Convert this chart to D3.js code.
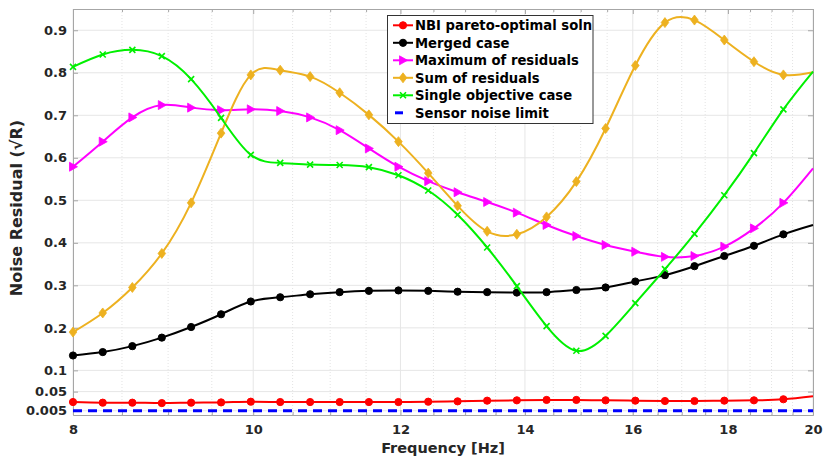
<!DOCTYPE html>
<html><head><meta charset="utf-8">
<script src="https://cdn.jsdelivr.net/npm/d3@7/dist/d3.min.js"></script>
<style>
html,body{margin:0;padding:0;background:#fff;}
svg{display:block;font-family:"DejaVu Sans",sans-serif;}
</style></head>
<body><svg id="chart" width="823" height="457"></svg>
<script>
// ---- data ----
const freq = [8.00, 8.30, 8.61, 8.93, 9.26, 9.61, 9.97, 10.34, 10.73, 11.13, 11.54, 11.97, 12.42,
              12.88, 13.36, 13.86, 14.38, 14.92, 15.47, 16.05, 16.65, 17.27, 17.92, 18.59, 19.28, 20.00];
const nbi = [0.0255, 0.024, 0.024, 0.023, 0.024, 0.0246, 0.0263, 0.0255, 0.0255, 0.0255, 0.0255, 0.0255, 0.0263,
             0.0271, 0.0287, 0.0295, 0.0304, 0.0304, 0.0295, 0.0287, 0.0279, 0.0279, 0.0287, 0.0295, 0.032, 0.039];
const merged = [0.135, 0.143, 0.157, 0.177, 0.202, 0.232, 0.262, 0.272, 0.279, 0.284, 0.287, 0.288, 0.287,
                0.285, 0.284, 0.283, 0.284, 0.289, 0.295, 0.309, 0.324, 0.345, 0.369, 0.393, 0.420, 0.442];
const maxRes = [0.579, 0.638, 0.695, 0.724, 0.718, 0.712, 0.714, 0.710, 0.695, 0.665, 0.622, 0.579, 0.545,
                0.519, 0.496, 0.471, 0.442, 0.416, 0.395, 0.379, 0.367, 0.369, 0.391, 0.434, 0.494, 0.575];
const sumRes = [0.19, 0.235, 0.295, 0.375, 0.494, 0.658, 0.795, 0.806, 0.791, 0.753, 0.701, 0.638, 0.564,
                0.487, 0.427, 0.420, 0.461, 0.544, 0.669, 0.817, 0.918, 0.924, 0.877, 0.826, 0.795, 0.801];
const single = [0.814, 0.843, 0.854, 0.839, 0.785, 0.694, 0.607, 0.588, 0.584, 0.583, 0.578, 0.559, 0.523,
                0.466, 0.389, 0.298, 0.204, 0.146, 0.181, 0.258, 0.338, 0.421, 0.512, 0.611, 0.714, 0.803];
const sensorLimit = [0.005, 0.005];
const sensorFreq = [8, 20];

const seriesNames = ["NBI pareto-optimal soln", "Merged case", "Maximum of residuals",
                     "Sum of residuals", "Single objective case", "Sensor noise limit"];
const xTicks = [8, 10, 12, 14, 16, 18, 20];
const xMinorTicks = [8.5, 9, 9.5, 10.5, 11, 11.5, 12.5, 13, 13.5, 14.5, 15, 15.5, 16.5, 17, 17.5, 18.5, 19, 19.5];
const yTicks = [0.005, 0.05, 0.1, 0.2, 0.3, 0.4, 0.5, 0.6, 0.7, 0.8, 0.9];
const yTickLabels = ["0.005", "0.05", "0.1", "0.2", "0.3", "0.4", "0.5", "0.6", "0.7", "0.8", "0.9"];

// ---- layout ----
const L = 73, R = 813, T = 9, B = 415;
const svg = d3.select("#chart");
const x = d3.scaleLog().domain([8, 20]).range([L, R]);
const y = d3.scaleLinear().domain([-0.005, 0.95]).range([B, T]);

const txt = "#262626", axisCol = "#a6a6a6";

// grid
const g = svg.append("g");
g.selectAll(".vmin").data(xMinorTicks).enter().append("line")
  .attr("x1", d => x(d)).attr("x2", d => x(d)).attr("y1", T).attr("y2", B)
  .attr("stroke", "#e3e3e3").attr("stroke-width", 1).attr("stroke-dasharray", "1,2");
g.selectAll(".vmaj").data(xTicks).enter().append("line")
  .attr("x1", d => x(d)).attr("x2", d => x(d)).attr("y1", T).attr("y2", B)
  .attr("stroke", "#e6e6e6").attr("stroke-width", 1);
g.selectAll(".hmaj").data(yTicks).enter().append("line")
  .attr("x1", L).attr("x2", R).attr("y1", d => y(d)).attr("y2", d => y(d))
  .attr("stroke", "#e6e6e6").attr("stroke-width", 1);

// axes (box with inward ticks)
const axB = d3.axisBottom(x).tickValues(xTicks).tickFormat(d3.format("d")).tickSizeInner(-5).tickSizeOuter(0).tickPadding(10);
const axT = d3.axisTop(x).tickValues(xTicks).tickFormat("").tickSizeInner(-5).tickSizeOuter(0);
const axL = d3.axisLeft(y).tickValues(yTicks).tickFormat((d, i) => yTickLabels[i]).tickSizeInner(-5).tickSizeOuter(0).tickPadding(6);
const axR = d3.axisRight(y).tickValues(yTicks).tickFormat("").tickSizeInner(-5).tickSizeOuter(0);
const minorB = d3.axisBottom(x).tickValues(xMinorTicks).tickFormat("").tickSizeInner(-3).tickSizeOuter(0);
const minorT = d3.axisTop(x).tickValues(xMinorTicks).tickFormat("").tickSizeInner(-3).tickSizeOuter(0);

function styleAxis(sel) {
  sel.select(".domain").attr("stroke", axisCol);
  sel.selectAll(".tick line").attr("stroke", axisCol);
  sel.selectAll(".tick text").attr("fill", txt).attr("font-size", 13).attr("font-weight", "bold")
    .attr("font-family", "DejaVu Sans, sans-serif");
}
svg.append("g").attr("transform", `translate(0,${B})`).call(minorB).call(styleAxis);
svg.append("g").attr("transform", `translate(0,${T})`).call(minorT).call(styleAxis);
svg.append("g").attr("transform", `translate(0,${B})`).call(axB).call(styleAxis);
svg.append("g").attr("transform", `translate(0,${T})`).call(axT).call(styleAxis);
svg.append("g").attr("transform", `translate(${L},0)`).call(axL).call(styleAxis);
svg.append("g").attr("transform", `translate(${R},0)`).call(axR).call(styleAxis);

// axis labels
svg.append("text").attr("x", (L + R) / 2).attr("y", 453).attr("text-anchor", "middle")
  .attr("font-size", 14.5).attr("font-weight", "bold").attr("fill", txt).text("Frequency [Hz]");
svg.append("text").attr("transform", "translate(22,208) rotate(-90)").attr("text-anchor", "middle")
  .attr("font-size", 16).attr("font-weight", "bold").attr("fill", txt).text("Noise Residual (√R)");

// series
const series = [
  {name: seriesNames[0], vals: nbi, color: "#ff0000", marker: "circle"},
  {name: seriesNames[1], vals: merged, color: "#000000", marker: "circle"},
  {name: seriesNames[2], vals: maxRes, color: "#ff00ff", marker: "tri"},
  {name: seriesNames[3], vals: sumRes, color: "#edb120", marker: "diamond"},
  {name: seriesNames[4], vals: single, color: "#00f000", marker: "x"}
];
const line = d3.line().x(d => x(d[0])).y(d => y(d[1])).curve(d3.curveNatural);

function drawMarker(sel, type, color, cx, cy) {
  if (type === "circle") {
    sel.append("circle").attr("cx", cx).attr("cy", cy).attr("r", 3.6).attr("fill", color).attr("stroke", color);
  } else if (type === "tri") {
    sel.append("path").attr("d", `M${cx + 4.5},${cy} L${cx - 3.5},${cy - 4.5} L${cx - 3.5},${cy + 4.5} Z`)
      .attr("fill", color).attr("stroke", color).attr("stroke-width", 0.8);
  } else if (type === "diamond") {
    sel.append("path").attr("d", `M${cx},${cy - 5} L${cx + 3.8},${cy} L${cx},${cy + 5} L${cx - 3.8},${cy} Z`)
      .attr("fill", color).attr("stroke", color).attr("stroke-width", 0.8);
  } else if (type === "x") {
    sel.append("path").attr("d", `M${cx - 3},${cy - 3} L${cx + 3},${cy + 3} M${cx - 3},${cy + 3} L${cx + 3},${cy - 3}`)
      .attr("stroke", color).attr("stroke-width", 1.6).attr("fill", "none");
  }
}

series.forEach(s => {
  const pts = freq.map((f, i) => [f, s.vals[i]]);
  const gs = svg.append("g");
  gs.append("path").attr("d", line(pts)).attr("fill", "none").attr("stroke", s.color).attr("stroke-width", 2);
  pts.slice(0, pts.length - 1).forEach(p => drawMarker(gs, s.marker, s.color, x(p[0]), y(p[1])));
});

// sensor noise limit
svg.append("line").attr("x1", x(sensorFreq[0])).attr("x2", x(sensorFreq[1]))
  .attr("y1", y(sensorLimit[0])).attr("y2", y(sensorLimit[1]))
  .attr("stroke", "#0000ff").attr("stroke-width", 3).attr("stroke-dasharray", "9,6");

// legend
const lg = svg.append("g");
lg.append("rect").attr("x", 387.5).attr("y", 15.5).attr("width", 205.5).attr("height", 108)
  .attr("fill", "#fff").attr("stroke", "#333").attr("stroke-width", 1);
const rowY = i => 25.3 + i * 17.5;
series.forEach((s, i) => {
  lg.append("line").attr("x1", 393).attr("x2", 413).attr("y1", rowY(i)).attr("y2", rowY(i))
    .attr("stroke", s.color).attr("stroke-width", 2);
  drawMarker(lg, s.marker, s.color, 403, rowY(i));
});
lg.append("line").attr("x1", 395).attr("x2", 403).attr("y1", rowY(5)).attr("y2", rowY(5))
  .attr("stroke", "#0000ff").attr("stroke-width", 3);
seriesNames.forEach((n, i) => {
  lg.append("text").attr("x", 415).attr("y", rowY(i) + 4.7).attr("font-size", 13.2).attr("font-weight", "bold")
    .attr("fill", "#000").text(n);
});
</script></body></html>
